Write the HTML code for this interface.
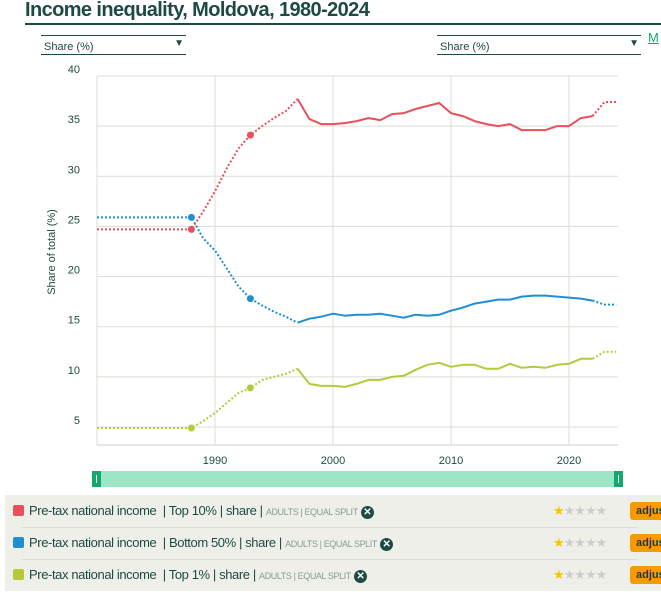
<!DOCTYPE html>
<html><head><meta charset="utf-8"><style>
body{margin:0;width:661px;height:602px;overflow:hidden;background:#fff;font-family:"Liberation Sans",sans-serif;color:#1e4a44}
.title{position:absolute;left:25px;top:-2px;line-height:24px;font-size:20px;font-weight:bold;color:#1e4a44;letter-spacing:-0.6px}
.tline{position:absolute;left:25px;top:23px;width:640px;height:2px;background:#1e4a44}
.sel{position:absolute;top:35px;border-top:1.5px solid #1e4a44;border-bottom:1.5px solid #1e4a44;font-size:11px;line-height:22px;padding-left:3px;box-sizing:border-box;height:20px}
.sel span.a{position:absolute;right:2px;top:-3px;font-size:10px}
.legend{position:absolute;left:5px;top:495px;width:656px;height:96px;background:#efefea}
.row{position:absolute;left:8px;width:640px;height:32px;font-size:13px;line-height:32px;color:#1e4a44;white-space:nowrap;letter-spacing:-0.4px}
.sw{display:inline-block;width:11px;height:11px;border-radius:2px;vertical-align:-1px;margin-right:5px}
.sm{font-size:9px;color:#8a9a96}
.x{display:inline-block;width:13px;height:13px;border-radius:50%;background:#1e4a44;color:#fff;font-size:10px;line-height:13px;text-align:center;font-weight:bold;vertical-align:0px;letter-spacing:0}
.stars{position:absolute;left:540px;top:0;font-size:13px;color:#ccc;letter-spacing:-1px}
.stars b{color:#f5c400;font-weight:normal}
.adj{position:absolute;left:617px;width:40px;height:18px;background:#f89a00;border-radius:3px;font-size:11px;font-weight:bold;line-height:18px;padding-left:6px;color:#1e3a34;top:7px;letter-spacing:0}
</style></head><body>
<div class="title">Income inequality, Moldova, 1980-2024</div>
<div class="tline"></div>
<div class="sel" style="left:41px;width:145px">Share (%)<span class="a">▼</span></div>
<div class="sel" style="left:437px;width:204px">Share (%)<span class="a">▼</span></div>
<div style="position:absolute;left:648px;top:30px;font-size:13px;color:#1aa86a;text-decoration:underline">M</div>
<svg id="chart" width="661" height="495" style="position:absolute;left:0;top:0"></svg>
<div class="legend">
 <div class="row" style="top:0"><span class="sw" style="background:#e8505b"></span>Pre-tax national income &nbsp;| Top 10% | share | <span class="sm">ADULTS | EQUAL SPLIT</span> <span class="x">✕</span><span class="stars"><b>★</b>★★★★</span><span class="adj">adjus</span></div>
 <div style="position:absolute;left:16px;top:32px;width:616px;height:1px;background:#dcdcd6"></div>
 <div class="row" style="top:32px"><span class="sw" style="background:#1f8fd2"></span>Pre-tax national income &nbsp;| Bottom 50% | share | <span class="sm">ADULTS | EQUAL SPLIT</span> <span class="x">✕</span><span class="stars"><b>★</b>★★★★</span><span class="adj">adjus</span></div>
 <div style="position:absolute;left:16px;top:64px;width:616px;height:1px;background:#dcdcd6"></div>
 <div class="row" style="top:64px"><span class="sw" style="background:#b5c93b"></span>Pre-tax national income &nbsp;| Top 1% | share | <span class="sm">ADULTS | EQUAL SPLIT</span> <span class="x">✕</span><span class="stars"><b>★</b>★★★★</span><span class="adj">adjus</span></div>
</div>
<script>
const years=[1980,1988,1989,1990,1991,1992,1993,1994,1995,1996,1997,1998,1999,2000,2001,2002,2003,2004,2005,2006,2007,2008,2009,2010,2011,2012,2013,2014,2015,2016,2017,2018,2019,2020,2021,2022,2023,2024];
const top10=[24.7,24.7,26.5,28.5,30.8,32.8,34.1,35.0,35.8,36.5,37.7,35.7,35.2,35.2,35.3,35.5,35.8,35.6,36.2,36.3,36.7,37.0,37.3,36.3,36.0,35.5,35.2,35.0,35.2,34.6,34.6,34.6,35.0,35.0,35.8,36.0,37.4,37.4];
const bottom50=[25.9,25.9,23.8,22.6,20.8,19.0,17.8,17.1,16.5,16.0,15.4,15.8,16.0,16.3,16.1,16.2,16.2,16.3,16.1,15.9,16.2,16.1,16.2,16.6,16.9,17.3,17.5,17.7,17.7,18.0,18.1,18.1,18.0,17.9,17.8,17.6,17.2,17.2];
const top1=[4.9,4.9,5.6,6.4,7.4,8.4,8.9,9.7,10.0,10.3,10.8,9.3,9.1,9.1,9.0,9.3,9.7,9.7,10.0,10.1,10.7,11.2,11.4,11.0,11.2,11.2,10.8,10.8,11.3,10.9,11.0,10.9,11.2,11.3,11.8,11.8,12.5,12.5];
const yTicks=[5,10,15,20,25,30,35,40];
const xTicks=[1990,2000,2010,2020];
const markYears=[1988,1993];
const X=y=>97+(y-1980)*11.8;
const Y=v=>427-(v-5)*10.03;
const svg=document.getElementById('chart');
const NS='http://www.w3.org/2000/svg';
function mk(t,a){const e=document.createElementNS(NS,t);for(const k in a)e.setAttribute(k,a[k]);svg.appendChild(e);return e;}
yTicks.forEach(v=>{
 const l=mk('line',{x1:97,x2:618,y1:Y(v),y2:Y(v),stroke:'#deded4','stroke-width':1});
 
 
 const t=mk('text',{x:80,y:Y(v)-3,'text-anchor':'end','font-size':11,fill:'#1e4a44'});t.textContent=v;
 
 
});
mk('line',{x1:97,x2:97,y1:Y(40),y2:445,stroke:'#deded4'});
xTicks.forEach(v=>{
 const l=mk('line',{x1:X(v),x2:X(v),y1:Y(40),y2:445,stroke:'#deded4'});
 
 
 const t=mk('text',{x:X(v),y:464,'text-anchor':'middle','font-size':11,fill:'#1e4a44'});t.textContent=v;
 
 
});
mk('line',{x1:97,x2:618,y1:445,y2:445,stroke:'#c8d0dc'});
const yt=mk('text',{x:0,y:0,transform:'translate(55,252) rotate(-90)','text-anchor':'middle','font-size':11,fill:'#1e4a44'});yt.textContent='Share of total (%)';


function path(sub){return sub.map((p,i)=>(i?'L':'M')+X(p[0]).toFixed(1)+','+Y(p[1]).toFixed(1)).join(' ');}
[[top10,'#e8505b','series-top10'],[bottom50,'#1f8fd2','series-bottom50'],[top1,'#b5c93b','series-top1']].forEach(([vals,c,n])=>{
 const pts=years.map((y,i)=>[y,vals[i]]);
 const a=pts.filter(p=>p[0]<=1997),b=pts.filter(p=>p[0]>=1997&&p[0]<=2022),d=pts.filter(p=>p[0]>=2022);
 [[a,true],[b,false],[d,true]].forEach(([s,dot])=>{
  const e=mk('path',{d:path(s),fill:'none',stroke:c,'stroke-width':2,'stroke-linejoin':'round','stroke-dasharray':dot?'2 2':'none'});
  
  
 });
 markYears.forEach(my=>{const i=years.indexOf(my);
  const m=mk('circle',{cx:X(my),cy:Y(vals[i]),r:3.5,fill:c});
  
  
 });
});
const br=mk('rect',{x:92,y:471,width:531,height:16,fill:'#9ce6c6'});


[92,614].forEach(x=>{const h=mk('rect',{x:x,y:471,width:9,height:16,fill:'#12a86e'});
 
 
 mk('line',{x1:x+4.5,x2:x+4.5,y1:475,y2:483,stroke:'#fff','stroke-width':1});});
</script>
</body></html>
